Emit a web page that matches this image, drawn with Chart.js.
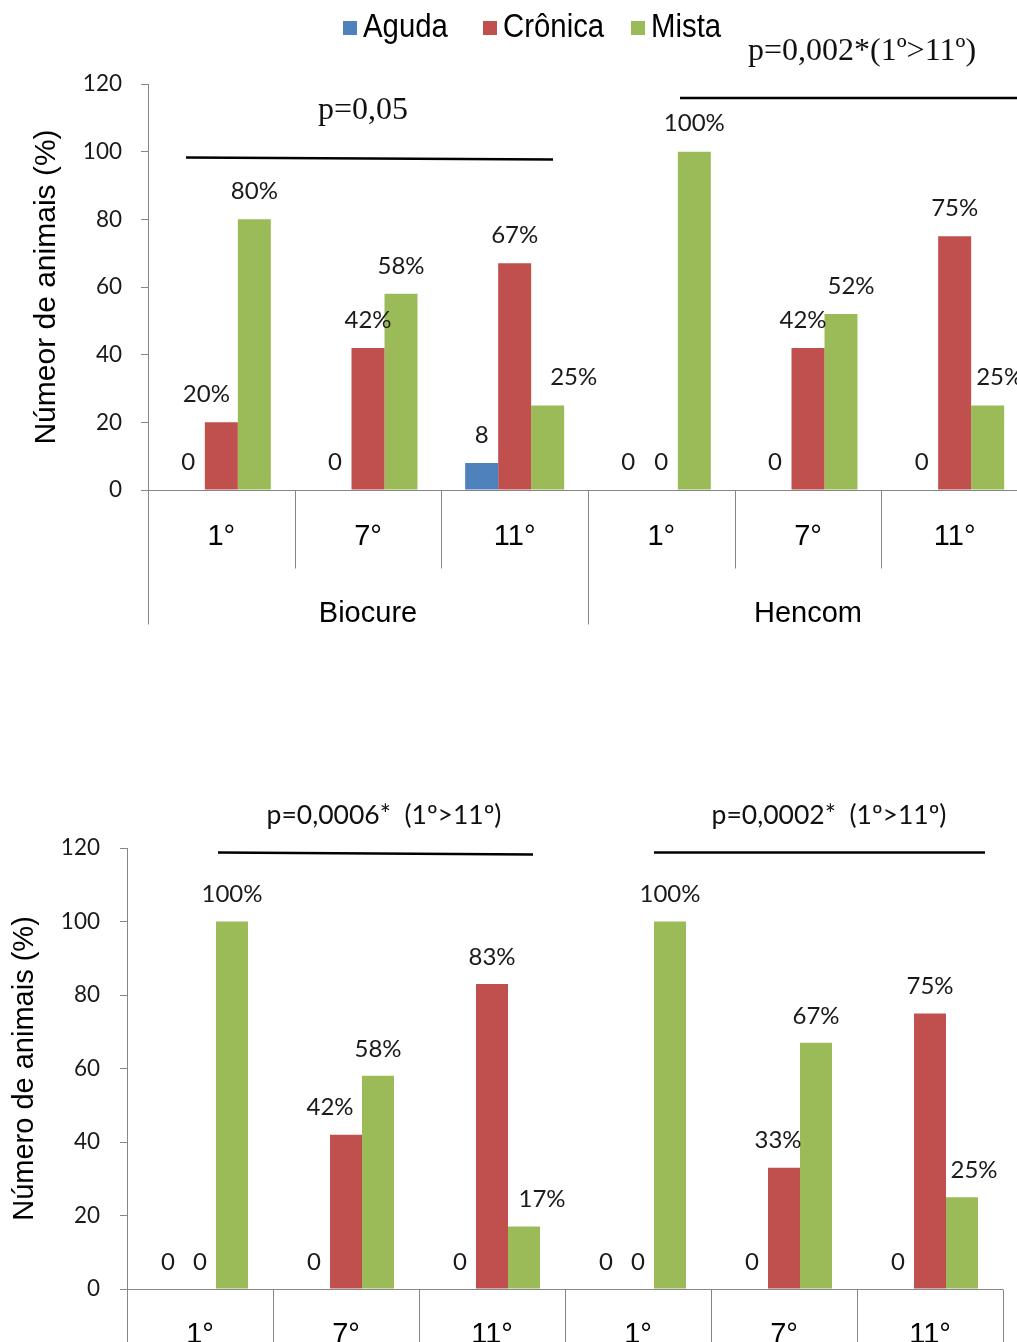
<!DOCTYPE html>
<html>
<head>
<meta charset="utf-8">
<script src="https://cdn.jsdelivr.net/npm/chart.js@4.4.0/dist/chart.umd.min.js"></script>
<style>
  html, body { margin: 0; padding: 0; background: #fff; width: 1017px; height: 1342px; overflow: hidden; position: relative; }
  canvas { position: absolute; left: 0; }
  #upper { top: 0; }
  #lower { top: 780px; }
</style>
</head>
<body>
<canvas id="upper" width="1040" height="640"></canvas>
<canvas id="lower" width="1017" height="600"></canvas>
<script>
// Lesion type share per group and collection day
const seriesNames = ['Aguda', 'Crônica', 'Mista'];
const seriesColors = ['#4F81BD', '#C0504D', '#9BBB59'];
const days = ['1°', '7°', '11°', '1°', '7°', '11°'];
const products = ['Biocure', 'Hencom'];
const yTickStep = 20;
const yMax = 120;

// upper panel
const upperAguda   = [0, 0, 8, 0, 0, 0];
const upperCronica = [20, 42, 67, 0, 42, 75];
const upperMista   = [80, 58, 25, 100, 52, 25];

// lower panel
const lowerAguda   = [0, 0, 0, 0, 0, 0];
const lowerCronica = [0, 42, 83, 0, 33, 75];
const lowerMista   = [100, 58, 17, 100, 67, 25];

const AXIS_GREY = '#868686';
const SANS = '"Liberation Sans", Arial, sans-serif';
const LABEL_FONT = 'Lato, "Open Sans", sans-serif';

function datasets(a, c, m) {
  return [a, c, m].map((vals, i) => ({
    label: seriesNames[i],
    data: vals,
    backgroundColor: seriesColors[i],
    borderWidth: 0,
    plainLabels: i === 0
  }));
}

// value labels, category axis with separators, legend and significance notes
const panelDecor = {
  id: 'panelDecor',
  afterDatasetsDraw(chart, args, opts) {
    const ctx = chart.ctx;
    const x = chart.scales.x;
    const area = chart.chartArea;
    const shifts = opts.labelShift || {};

    ctx.save();
    // value labels above each bar (a few nudged sideways to avoid crowding)
    ctx.font = opts.valueFont;
    ctx.fillStyle = '#1a1a1a';
    ctx.textAlign = 'center';
    ctx.textBaseline = 'middle';
    chart.data.datasets.forEach((ds, di) => {
      chart.getDatasetMeta(di).data.forEach((bar, i) => {
        const v = ds.data[i];
        const txt = (v === 0 || ds.plainLabels) ? String(v) : v + '%';
        const dx = shifts[di + ':' + i] || 0;
        ctx.fillText(txt, bar.x + dx, bar.y - opts.labelGap);
      });
    });

    // category axis
    const n = chart.data.labels.length;
    const band = x.getPixelForValue(1) - x.getPixelForValue(0);
    const left = x.getPixelForValue(0) - band / 2;
    const base = Math.round(area.bottom) + 0.5;
    ctx.strokeStyle = AXIS_GREY;
    ctx.lineWidth = 1;
    ctx.beginPath();
    ctx.moveTo(area.left, base);
    ctx.lineTo(left + n * band, base);
    for (let k = 0; k <= n; k++) {
      const px = Math.round(left + k * band) + 0.5;
      const drop = (k % 3 === 0) ? opts.groupDrop : opts.tickDrop;
      ctx.moveTo(px, base);
      ctx.lineTo(px, base + drop);
    }
    ctx.stroke();

    ctx.fillStyle = '#000';
    ctx.font = opts.catFont;
    chart.data.labels.forEach((lab, i) => {
      ctx.fillText(lab, x.getPixelForValue(i), base + opts.catOffset);
    });
    if (opts.groups) {
      opts.groups.forEach((g, gi) => {
        const cx = left + (gi * 3 + 1.5) * band;
        ctx.fillText(g, cx, base + opts.groupOffset);
      });
    }

    // vertical axis title
    ctx.save();
    ctx.translate(opts.titleX, (area.top + area.bottom) / 2 + opts.titleShift);
    ctx.rotate(-Math.PI / 2);
    ctx.font = opts.titleFont;
    ctx.fillText(opts.title, 0, 0);
    ctx.restore();

    // legend
    if (opts.legend) {
      const L = opts.legend;
      chart.data.datasets.forEach((ds, di) => {
        const cx = L.xs[di];
        ctx.fillStyle = ds.backgroundColor;
        ctx.fillRect(cx, L.y - L.box / 2, L.box, L.box);
        ctx.save();
        ctx.translate(cx + L.box + L.gap, L.y);
        ctx.scale(L.squeeze, 1);
        ctx.font = L.font;
        ctx.fillStyle = '#000';
        ctx.textAlign = 'left';
        ctx.fillText(ds.label, 0, 0);
        ctx.restore();
      });
    }

    // significance notes and brackets
    (opts.notes || []).forEach((nt) => {
      ctx.save();
      ctx.translate(nt.x, nt.y);
      ctx.scale(nt.squeeze || 1, 1);
      ctx.font = nt.font;
      ctx.fillStyle = '#111';
      ctx.textAlign = 'center';
      ctx.fillText(nt.text, 0, 0);
      ctx.restore();
    });
    ctx.strokeStyle = '#000';
    ctx.lineWidth = 2.5;
    (opts.rules || []).forEach((r) => {
      ctx.beginPath();
      ctx.moveTo(r[0], r[1]);
      ctx.lineTo(r[2], r[3]);
      ctx.stroke();
    });
    ctx.restore();
  }
};

function makeChart(id, data, cfg) {
  return new Chart(document.getElementById(id), {
    type: 'bar',
    data: { labels: days, datasets: data },
    options: {
      responsive: false,
      animation: false,
      layout: { padding: cfg.padding },
      datasets: { bar: { categoryPercentage: cfg.catPct, barPercentage: 1 } },
      scales: {
        x: { display: false },
        y: {
          min: 0, max: yMax,
          afterFit(scale) { scale.width = cfg.axisLeft; },
          ticks: { stepSize: yTickStep, padding: cfg.tickPad, color: '#1a1a1a',
                   font: { family: LABEL_FONT, size: 22.5 } },
          grid: { drawOnChartArea: false, drawTicks: true, tickLength: 7, color: AXIS_GREY },
          border: { display: true, color: AXIS_GREY }
        }
      },
      plugins: {
        legend: { display: false },
        tooltip: { enabled: false },
        panelDecor: cfg.decor
      }
    },
    plugins: [panelDecor]
  });
}

makeChart('upper', datasets(upperAguda, upperCronica, upperMista), {
  padding: { left: 0, top: 84, right: 12, bottom: 150 },
  catPct: 0.675,
  axisLeft: 148,
  tickPad: 19,
  decor: {
    valueFont: '24px ' + LABEL_FONT,
    labelGap: 28,
    labelShift: { '1:0': -15, '2:2': 26, '1:4': -5, '2:4': 10, '2:5': 12 },
    tickDrop: 78,
    groupDrop: 134,
    catFont: '29px ' + SANS,
    catOffset: 46,
    groups: products,
    groupOffset: 123,
    title: 'Númeor de animais (%)',
    titleFont: '30px ' + SANS,
    titleX: 47,
    titleShift: 0,
    legend: { xs: [343, 483, 631], y: 28, box: 14, gap: 6, font: '33px ' + SANS, squeeze: 0.89 },
    notes: [
      { text: 'p=0,05', x: 363, y: 111, font: '32px "Liberation Serif", "Times New Roman", serif' },
      { text: 'p=0,002*(1º>11º)', x: 862, y: 52, font: '32px "Liberation Serif", "Times New Roman", serif' }
    ],
    rules: [[186, 157.5, 553, 159.5], [680, 98, 1017, 98]]
  }
});

makeChart('lower', datasets(lowerAguda, lowerCronica, lowerMista), {
  padding: { left: 0, top: 68, right: 14, bottom: 91 },
  catPct: 0.6575,
  axisLeft: 127,
  tickPad: 20,
  decor: {
    valueFont: '24px ' + LABEL_FONT,
    labelGap: 27,
    labelShift: { '1:1': -16, '2:2': 18, '1:4': -6, '2:5': 12 },
    tickDrop: 120,
    groupDrop: 120,
    catFont: '29px ' + SANS,
    catOffset: 45,
    title: 'Número de animais (%)',
    titleFont: '29px ' + SANS,
    titleX: 25,
    titleShift: 0,
    notes: [
      { text: 'p=0,0006*  (1º>11º)', x: 384, y: 35, font: '26.5px ' + LABEL_FONT },
      { text: 'p=0,0002*  (1º>11º)', x: 829, y: 35, font: '26.5px ' + LABEL_FONT }
    ],
    rules: [[218, 72.5, 533, 74.5], [654, 72.5, 985, 72.5]]
  }
});
</script>
</body>
</html>
